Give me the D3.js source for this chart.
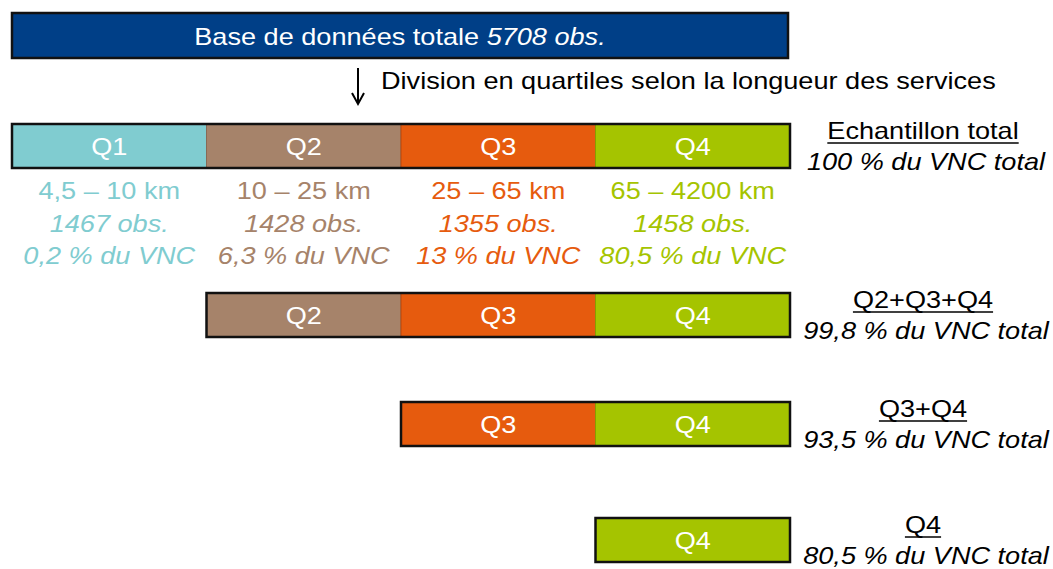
<!DOCTYPE html>
<html>
<head>
<meta charset="utf-8">
<script src="https://cdn.jsdelivr.net/npm/d3@7"></script>
<style>
  body { margin: 0; background: #fff; }
  text { font-family: "Liberation Sans", Arial, sans-serif; }
</style>
</head>
<body>
<div class="canvas"></div>
<script>
// data
const totalObs = 5708;
const quartiles = ['Q1', 'Q2', 'Q3', 'Q4'];
const kmRanges = ['4,5 – 10 km', '10 – 25 km', '25 – 65 km', '65 – 4200 km'];
const obsCounts = [1467, 1428, 1355, 1458];
const vncShares = ['0,2', '6,3', '13', '80,5'];
const sampleLabels = ['Echantillon total', 'Q2+Q3+Q4', 'Q3+Q4', 'Q4'];
const sampleFirstQuartile = ['Q1', 'Q2', 'Q3', 'Q4'];
const sampleVnc = ['100', '99,8', '93,5', '80,5'];

const width = 1053;
const height = 569;
const barHeight = 44;
const fontSize = 24;
const sx = 1.13; // text in the picture is a bit wide

const colors = d3.scaleOrdinal()
  .domain(quartiles)
  .range(['#80ccd0', '#a6836a', '#e65b0e', '#a5c400']);

const svg = d3.select('.canvas')
  .append('svg')
   .attr('width', width)
   .attr('height', height);

// x = quartile position along the bar
const x = d3.scaleBand()
  .domain(quartiles)
  .range([12, 790])
  .padding(0);

// top of each sample bar
const y = d3.scaleOrdinal()
  .domain(sampleLabels)
  .range([124, 293, 402, 518]);

// places a stretched text (or group) at x,y
const place = (sel, px, py) => sel.attr('transform', `translate(${px}, ${py}) scale(${sx}, 1)`);

//top bar: whole database
svg.append('rect')
  .attr('x', x.range()[0])
  .attr('y', 13)
  .attr('width', x.range()[1] - x.range()[0] - 2)
  .attr('height', 45)
  .attr('fill', '#003f87')
  .attr('stroke', '#111')
  .attr('stroke-width', 2.5);

const title = svg.append('text')
  .call(place, (x.range()[0] + x.range()[1]) / 2 - 1, 45)
  .attr('text-anchor', 'middle')
  .attr('font-size', fontSize + 'px')
  .attr('fill', '#fff');
title.append('tspan').text('Base de données totale ');
title.append('tspan').attr('font-style', 'italic').text(`${totalObs} obs.`);

//arrow + division text
const arrowX = 358;
svg.append('line')
  .attr('x1', arrowX).attr('x2', arrowX)
  .attr('y1', 68).attr('y2', 103)
  .attr('stroke', '#000').attr('stroke-width', 2);
svg.append('path')
  .attr('d', `M${arrowX - 6},${93} L${arrowX},${104} L${arrowX + 6},${93}`)
  .attr('fill', 'none')
  .attr('stroke', '#000')
  .attr('stroke-width', 2);
svg.append('text')
  .call(place, 381, 89)
  .attr('font-size', fontSize + 'px')
  .attr('fill', '#000')
  .text('Division en quartiles selon la longueur des services');

//sample bars
sampleLabels.forEach((label, i) => {
  const qs = quartiles.slice(quartiles.indexOf(sampleFirstQuartile[i]));
  const g = svg.append('g').attr('transform', `translate(0, ${y(label)})`);

  g.selectAll('rect.seg')
    .data(qs)
    .enter().append('rect')
     .attr('class', 'seg')
     .attr('x', d => x(d))
     .attr('y', 0)
     .attr('width', x.bandwidth())
     .attr('height', barHeight)
     .attr('fill', d => colors(d))
     .attr('stroke', d => d3.color(colors(d)).darker(0.6))
     .attr('stroke-width', 1);

  g.selectAll('text.seg')
    .data(qs)
    .enter().append('text')
     .attr('class', 'seg')
     .each(function(d) { d3.select(this).call(place, x(d) + x.bandwidth() / 2, barHeight / 2 + 9); })
     .attr('text-anchor', 'middle')
     .attr('font-size', fontSize + 'px')
     .attr('fill', '#fff')
     .text(d => d);

  g.append('rect')
    .attr('x', x(qs[0]))
    .attr('y', 0)
    .attr('width', x.range()[1] - x(qs[0]))
    .attr('height', barHeight)
    .attr('fill', 'none')
    .attr('stroke', '#111')
    .attr('stroke-width', 2.5);

  // right-hand label, underlined
  const headG = g.append('g').call(place, 923, 15);
  const head = headG.append('text')
    .attr('text-anchor', 'middle')
    .attr('font-size', fontSize + 'px')
    .attr('fill', '#000')
    .text(label);
  const bb = head.node().getBBox();
  headG.append('line')
    .attr('x1', bb.x).attr('x2', bb.x + bb.width)
    .attr('y1', 4).attr('y2', 4)
    .attr('stroke', '#000').attr('stroke-width', 1.5);

  g.append('text')
    .call(place, 926, 46)
    .attr('text-anchor', 'middle')
    .attr('font-size', fontSize + 'px')
    .attr('font-style', 'italic')
    .attr('fill', '#000')
    .text(`${sampleVnc[i]} % du VNC total`);
});

//quartile details under the first bar
const details = svg.append('g')
  .attr('transform', `translate(0, ${y(sampleLabels[0]) + barHeight})`);

quartiles.forEach((q, i) => {
  const cx = x(q) + x.bandwidth() / 2;
  const lines = [
    { t: kmRanges[i], italic: false },
    { t: `${obsCounts[i]} obs.`, italic: true },
    { t: `${vncShares[i]} % du VNC`, italic: true }
  ];
  details.selectAll(null)
    .data(lines)
    .enter().append('text')
     .each(function(d, j) { d3.select(this).call(place, cx, 31 + j * 32.5); })
     .attr('text-anchor', 'middle')
     .attr('font-size', fontSize + 'px')
     .attr('font-style', d => d.italic ? 'italic' : 'normal')
     .attr('fill', colors(q))
     .text(d => d.t);
});
</script>
</body>
</html>
